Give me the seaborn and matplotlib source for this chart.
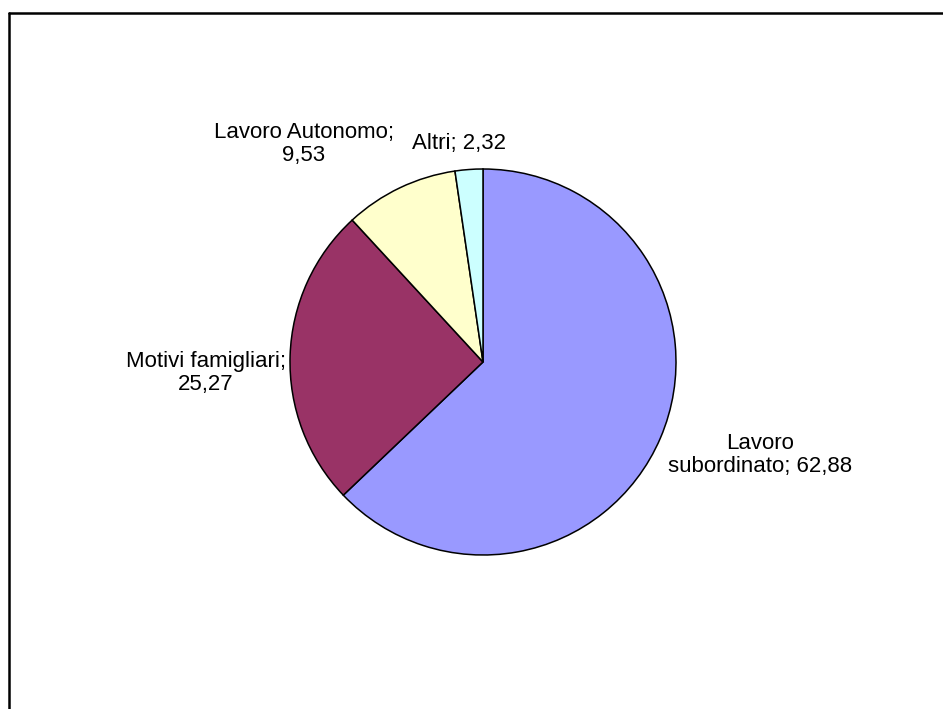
import matplotlib
matplotlib.use("Agg")
import matplotlib.pyplot as plt
import seaborn as sns
from matplotlib.lines import Line2D

categories = ["Lavoro subordinato", "Motivi famigliari", "Lavoro Autonomo", "Altri"]
values = [62.88, 25.27, 9.53, 2.32]
label_texts = ["Lavoro\nsubordinato; 62,88", "Motivi famigliari;\n25,27",
               "Lavoro Autonomo;\n9,53", "Altri; 2,32"]
colors = ["#9999FF", "#993366", "#FFFFCC", "#CCFFFF"]

sns.set_theme(style="white")
plt.rcParams['font.family'] = ['Liberation Sans', 'DejaVu Sans']

W, H = 943, 709
fig = plt.figure(figsize=(W / 100, H / 100), dpi=100)
ax = fig.add_axes([0, 0, 1, 1])
ax.set_xlim(0, W)
ax.set_ylim(0, H)
ax.set_aspect("equal")
ax.axis("off")

cx, cy, r = 483, H - 362, 193
ax.pie(values, colors=colors, startangle=90, counterclock=False,
       center=(cx, cy), radius=r, frame=True,
       wedgeprops=dict(edgecolor="black", linewidth=1.1))
ax.set_xlim(0, W)
ax.set_ylim(0, H)
ax.axis("off")

# label positions (pixel coords, layout only)
label_pos = [(760, 455), (206, 373), (304, 144), (459, 143)]
for txt, (x, y) in zip(label_texts, label_pos):
    ax.text(x, H - y, txt, ha="center", va="center", fontsize=16,
            color="black", linespacing=1.12)

# chart frame (top and left edges visible)
ax.add_line(Line2D([9, W], [H - 13, H - 13], color="black", linewidth=1.8))
ax.add_line(Line2D([9, 9], [H - 13, 0], color="black", linewidth=1.8))

fig.savefig("out.png", dpi=100)
